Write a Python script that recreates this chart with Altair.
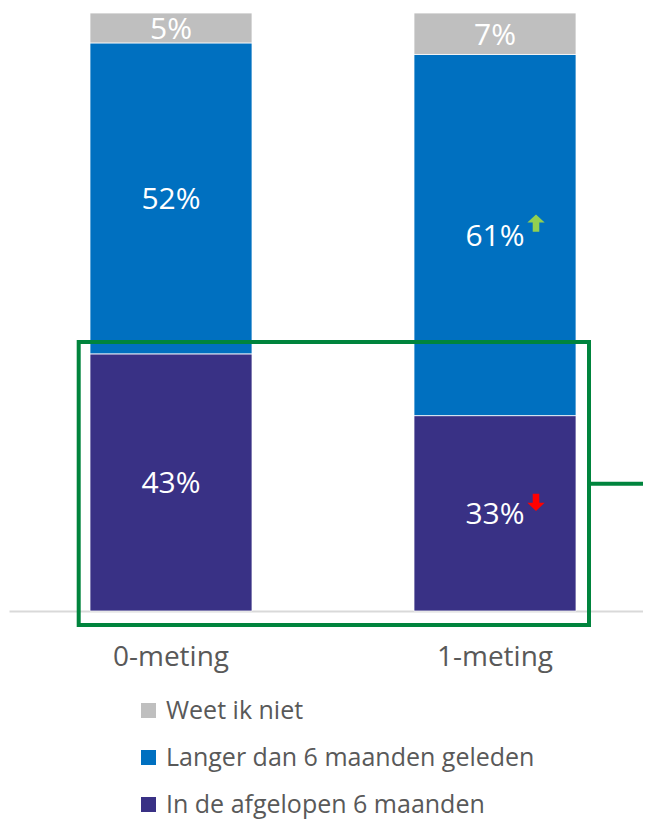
import altair as alt
import pandas as pd

categories = ["0-meting", "1-meting"]
series = ["Weet ik niet", "Langer dan 6 maanden geleden", "In de afgelopen 6 maanden"]
weet = [5, 7]
langer = [52, 61]
afgelopen = [43, 33]
arrow_langer = ["", "up"]
arrow_afgelopen = ["", "down"]
colors = ["#BFBFBF", "#0070C0", "#393185"]

rows = []
for i, c in enumerate(categories):
    rows.append(dict(cat=c, series=series[2], value=afgelopen[i], rank=0, arrow=arrow_afgelopen[i]))
    rows.append(dict(cat=c, series=series[1], value=langer[i], rank=1, arrow=arrow_langer[i]))
    rows.append(dict(cat=c, series=series[0], value=weet[i], rank=2, arrow=""))
df = pd.DataFrame(rows)

FONT = "Open Sans"
UP = "M0,-1 L1,-0.05 L0.38,-0.05 L0.38,1 L-0.38,1 L-0.38,-0.05 L-1,-0.05 Z"
DOWN = "M0,1 L1,0.05 L0.38,0.05 L0.38,-1 L-0.38,-1 L-0.38,0.05 L-1,0.05 Z"

base = (
    alt.Chart(df)
    .transform_joinaggregate(total="sum(value)", groupby=["cat"])
    .transform_calculate(frac="datum.value / datum.total", label="datum.value + '%'")
    .transform_stack(stack="frac", groupby=["cat"], as_=["y0", "y1"],
                     sort=[alt.SortField("rank", order="ascending")])
    .transform_calculate(mid="(datum.y0 + datum.y1) / 2")
)

x = alt.X(
    "cat:N", sort=categories,
    scale=alt.Scale(paddingInner=0.5, paddingOuter=0.25, range=[1, 649]),
    axis=alt.Axis(title=None, labelAngle=0, ticks=False, domainColor="#D9D9D9",
                  domainWidth=2, labelFontSize=28, labelColor="#595959",
                  labelFont=FONT, labelPadding=32),
)
yscale = alt.Scale(domain=[0, 1.0084], nice=False)

bars = base.mark_bar(stroke="white", strokeWidth=0.75).encode(
    x=x,
    y=alt.Y("y0:Q", scale=yscale, axis=None),
    y2="y1:Q",
    color=alt.Color(
        "series:N",
        scale=alt.Scale(domain=series, range=colors),
        legend=alt.Legend(
            title=None, orient="none", legendX=128, legendY=690,
            symbolType="square", symbolSize=225, symbolStrokeWidth=0,
            labelFontSize=25, labelFont=FONT, labelColor="#595959",
            labelOffset=5, rowPadding=21, padding=0, labelLimit=500,
        ),
    ),
)

labels = base.mark_text(color="white", fontSize=30, font=FONT, baseline="middle", dy=2).encode(
    x=x,
    y=alt.Y("mid:Q", scale=yscale, axis=None),
    text="label:N",
)

up = base.transform_filter("datum.arrow == 'up'").mark_point(
    shape=UP, filled=True, color="#92D050", size=300, opacity=1, xOffset=41, yOffset=-12
).encode(x=x, y=alt.Y("mid:Q", scale=yscale, axis=None))

down = base.transform_filter("datum.arrow == 'down'").mark_point(
    shape=DOWN, filled=True, color="#FF0000", size=300, opacity=1, xOffset=41, yOffset=-11
).encode(x=x, y=alt.Y("mid:Q", scale=yscale, axis=None))

anno = alt.Chart(pd.DataFrame({"a": [0]}))
box = anno.mark_rect(fill="transparent", stroke="#00843D", strokeWidth=4).encode(
    x=alt.value(70.7), x2=alt.value(581), y=alt.value(334), y2=alt.value(617)
)
link = anno.mark_rule(stroke="#00843D", strokeWidth=4).encode(
    x=alt.value(581), x2=alt.value(650), y=alt.value(475.7)
)

chart = (
    alt.layer(bars, labels, up, down, box, link)
    .properties(
        width=635, height=603,
        autosize=alt.AutoSizeParams(type="none"),
        padding={"left": 0, "top": 0, "right": 0, "bottom": 209},
    )
    .configure_view(stroke=None)
)

chart.save("out.html", embed_options={"renderer": "svg", "actions": False})
